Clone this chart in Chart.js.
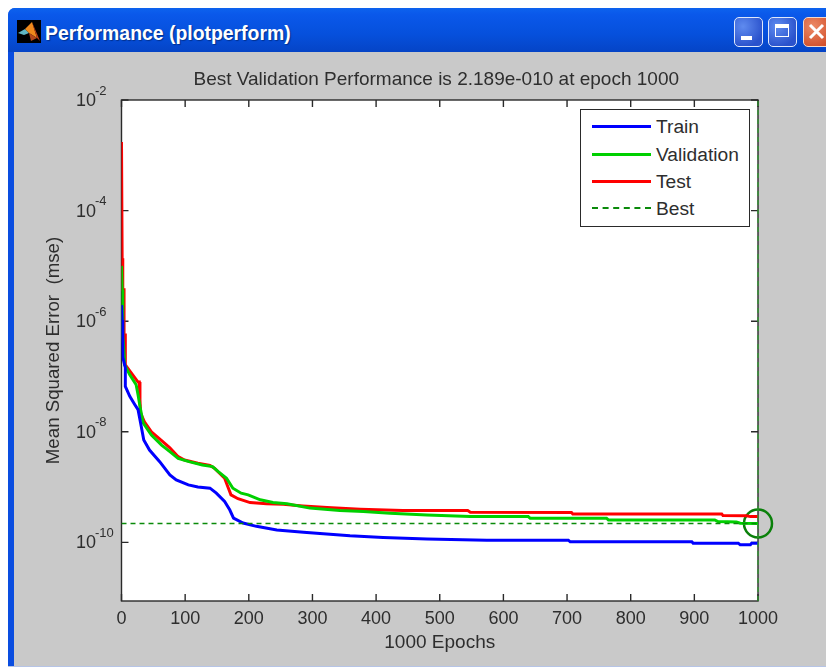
<!DOCTYPE html>
<html>
<head>
<meta charset="utf-8">
<title>Performance (plotperform)</title>
<script src="https://cdn.jsdelivr.net/npm/chart.js@4"></script>
<style>
    html, body { margin: 0; padding: 0; background: #fff; width: 826px; height: 668px; overflow: hidden; }
    body { position: relative; font-family: "Liberation Sans", Arial, sans-serif; filter: blur(0.4px); }
    #frame { position: absolute; left: 8px; top: 8px; width: 830px; height: 658px; background: #0a4de0; border-top-left-radius: 7px; }
    #titlebar { position: absolute; left: 8px; top: 8px; width: 830px; height: 44px; border-top-left-radius: 7px;
        background: linear-gradient(#0d62ee 0%, #0a58ea 15%, #0650dc 60%, #0544c6 100%); }
    #caption { position: absolute; left: 45px; top: 22px; color: #fff; font: bold 19.4px "Liberation Sans", Arial, sans-serif; white-space: nowrap; text-shadow: 1px 1px 1px #03308c; }
    #icon { position: absolute; left: 17px; top: 20px; width: 24px; height: 23px; }
    .btn { position: absolute; top: 17px; height: 28px; border: 1.5px solid #dfe8fb; border-radius: 5px; background: radial-gradient(circle at 30% 30%, #5f8bef, #2a52cc 75%); }
    #panel { position: absolute; left: 14px; top: 52px; width: 812px; height: 614px; background: #c9c9c9; }
    #bottom { position: absolute; left: 8px; top: 666px; width: 818px; height: 1px; background: #b6c4e6; }
    #chart { position: absolute; left: 0; top: 0; }
    #legend { position: absolute; left: 580px; top: 109px; width: 168px; height: 116px; background: #fff; border: 1.5px solid #2a2a2a; }
    .row { position: absolute; left: 11px; height: 22px; width: 150px; }
    .sample { position: absolute; left: 0; top: 9px; width: 59px; height: 0; }
    .row span { position: absolute; left: 64px; top: 0; font-size: 19.2px; line-height: 22px; color: #2e2e2e; }
</style>
</head>
<body>
<div id="frame"></div>
<div id="titlebar"></div>
<svg id="icon" viewBox="0 0 24 23">
    <rect width="24" height="23" fill="#000"/>
    <polygon points="1,13 8,9 12,13 7,15" fill="#5fb6c4"/>
    <polygon points="8,9 15,2 20,18 12,13" fill="#f08a1c"/>
    <polygon points="15,2 23,21 20,18" fill="#c2401a"/>
    <polygon points="12,13 20,18 14,21" fill="#b5481c"/>
</svg>
<div id="caption">Performance (plotperform)</div>
<div class="btn" style="left:734px;width:27px;"><div style="position:absolute;left:6px;top:18px;width:11px;height:4px;background:#fff;"></div></div>
<div class="btn" style="left:768px;width:27px;"><div style="position:absolute;left:6px;top:6px;width:14px;height:13px;border:1.5px solid #fff;border-top-width:4px;box-sizing:border-box;"></div></div>
<div class="btn" style="left:803px;width:30px;background:radial-gradient(circle at 30% 30%,#ec8a66,#d2502c 75%);border-color:#f3d8cc;">
    <svg width="17" height="17" style="position:absolute;left:4px;top:5px;"><path d="M2 2 L15 15 M15 2 L2 15" stroke="#fff" stroke-width="3"/></svg>
</div>
<div id="panel"></div>
<div id="bottom"></div>
<canvas id="chart" width="826" height="668"></canvas>
<div id="legend"></div>

<script>
// ── Data (log10 of the mse) ───────────────────────────────

const trainEpochs = [0, 1, 2, 2, 6, 6, 13, 21, 26, 30, 35, 44, 60, 76, 86, 105, 120, 139, 149, 162, 170, 176, 191, 212, 244, 286, 317, 359, 411, 480, 574, 702, 705, 896, 898, 969, 972, 988, 990, 1000];
const trainLog = [-5.71, -5.98, -6.39, -6.65, -6.84, -7.18, -7.36, -7.51, -7.60, -7.84, -8.15, -8.33, -8.54, -8.78, -8.87, -8.96, -9.00, -9.02, -9.11, -9.26, -9.41, -9.56, -9.65, -9.71, -9.774, -9.816, -9.846, -9.882, -9.913, -9.937, -9.96, -9.96, -9.99, -9.99, -10.014, -10.014, -10.045, -10.045, -10.014, -10.014];

const valEpochs = [0, 1, 2, 2, 3, 5, 13, 23, 26, 29, 34, 47, 63, 76, 89, 106, 127, 143, 152, 165, 175, 188, 199, 218, 238, 260, 296, 343, 380, 422, 480, 548, 639, 642, 762, 765, 932, 937, 966, 972, 1000];
const valLog = [-5.0, -5.43, -5.67, -6.28, -6.39, -6.79, -6.97, -7.15, -7.33, -7.54, -7.84, -8.06, -8.24, -8.36, -8.48, -8.54, -8.60, -8.63, -8.72, -8.84, -9.02, -9.11, -9.14, -9.23, -9.28, -9.30, -9.38, -9.425, -9.443, -9.472, -9.503, -9.534, -9.534, -9.562, -9.562, -9.593, -9.593, -9.624, -9.63, -9.653, -9.66];

const testEpochs = [0, 1, 2, 4, 4, 6, 6, 26, 28, 29, 30, 36, 47, 63, 76, 89, 99, 120, 139, 146, 162, 168, 172, 183, 202, 228, 254, 285, 323, 375, 442, 544, 548, 707, 709, 943, 945, 982, 988, 1000];
const testLog = [-2.76, -4.86, -5.43, -5.43, -6.25, -6.25, -6.79, -7.10, -7.10, -7.42, -7.66, -7.82, -8.00, -8.16, -8.29, -8.45, -8.51, -8.57, -8.61, -8.66, -8.84, -9.02, -9.14, -9.21, -9.28, -9.30, -9.31, -9.34, -9.37, -9.40, -9.425, -9.425, -9.454, -9.46, -9.485, -9.485, -9.515, -9.52, -9.534, -9.534];

const bestEpoch = 1000;
const bestValue = 2.189e-10;

const legendNames = ['Train', 'Validation', 'Test', 'Best'];
const xTicks = [0, 100, 200, 300, 400, 500, 600, 700, 800, 900, 1000];
const yTickExps = [-2, -4, -6, -8, -10];
const yTop = 1e-2;
const yBottom = Math.pow(10, -11.06);

const BLUE = '#0000ff';
const GREEN = '#00d000';
const RED = '#ff0000';
const BEST = '#0a8a0a';
const TEXT = '#2e2e2e';
const FONT = '"Liberation Sans", Arial, sans-serif';

function toPoints(epochs, logs) {
    return epochs.map((e, i) => ({ x: e, y: Math.pow(10, logs[i]) }));
}

// ── Axes box, inward ticks, 10^n labels ───────────────────

const boxPlugin = {
    id: 'box',
    beforeDraw(chart) {
        // the title sits a little left of the axes centre
        chart.titleBlock.left = chart.chartArea.left - 7;
    },
    beforeDatasetsDraw(chart) {
        const { ctx, chartArea: a, scales } = chart;
        ctx.save();
        ctx.fillStyle = '#fff';
        ctx.fillRect(a.left, a.top, a.right - a.left, a.bottom - a.top);
        ctx.strokeStyle = '#2a2a2a';
        ctx.lineWidth = 1.4;
        ctx.strokeRect(a.left, a.top, a.right - a.left, a.bottom - a.top);
        ctx.beginPath();
        xTicks.forEach(t => {
            const px = scales.x.getPixelForValue(t);
            ctx.moveTo(px, a.bottom); ctx.lineTo(px, a.bottom - 7);
            ctx.moveTo(px, a.top); ctx.lineTo(px, a.top + 7);
        });
        yTickExps.forEach(n => {
            const py = scales.y.getPixelForValue(Math.pow(10, n));
            ctx.moveTo(a.left, py); ctx.lineTo(a.left + 7, py);
            ctx.moveTo(a.right, py); ctx.lineTo(a.right - 7, py);
        });
        ctx.stroke();
        ctx.restore();
    },
    afterDraw(chart) {
        const { ctx, scales } = chart;
        ctx.save();
        ctx.fillStyle = TEXT;
        ctx.textAlign = 'left';
        ctx.textBaseline = 'middle';
        yTickExps.forEach(n => {
            const py = scales.y.getPixelForValue(Math.pow(10, n));
            ctx.font = '18px ' + FONT;
            ctx.fillText('10', 76, py + 1);
            ctx.font = '13px ' + FONT;
            ctx.fillText(String(n), 95, py - 9);
        });
        ctx.restore();
    }
};

// ── Chart ─────────────────────────────────────────────────

new Chart(document.getElementById('chart').getContext('2d'), {
    type: 'line',
    data: {
        datasets: [
            { label: 'Best', data: [{ x: 0, y: bestValue }, { x: bestEpoch, y: bestValue }], borderColor: BEST, borderWidth: 1.5, borderDash: [5, 4] },
            { label: 'Best epoch', data: [{ x: bestEpoch, y: yBottom }, { x: bestEpoch, y: yTop }], borderColor: '#2fa02f', borderWidth: 1.2, borderDash: [5, 4], clip: false },
            { label: 'Train', data: toPoints(trainEpochs, trainLog), borderColor: BLUE, borderWidth: 3 },
            { label: 'Validation', data: toPoints(valEpochs, valLog), borderColor: GREEN, borderWidth: 3 },
            { label: 'Test', data: toPoints(testEpochs, testLog), borderColor: RED, borderWidth: 3 },
            { label: 'Best point', data: [{ x: bestEpoch, y: bestValue }], showLine: false, clip: false, pointRadius: 14, pointBorderWidth: 2.5, pointBorderColor: '#0a800a', pointBackgroundColor: 'rgba(0,0,0,0)' }
        ]
    },
    options: {
        responsive: false,
        animation: false,
        parsing: false,
        elements: { point: { radius: 0 }, line: { tension: 0 } },
        layout: { padding: { right: 68 } },
        plugins: {
            legend: { display: false },
            tooltip: { enabled: false },
            title: {
                display: true,
                text: 'Best Validation Performance is 2.189e-010 at epoch 1000',
                color: TEXT,
                fullSize: false,
                font: { family: FONT, size: 19, weight: 'normal', lineHeight: 1.2 },
                padding: { top: 68.6, bottom: 8.6 }
            }
        },
        scales: {
            x: {
                type: 'linear',
                min: 0,
                max: 1000,
                grid: { display: false },
                border: { display: false },
                afterBuildTicks: s => { s.ticks = xTicks.map(v => ({ value: v })); },
                afterFit: s => { s.height = 67; },
                ticks: { color: TEXT, maxRotation: 0, autoSkip: false, padding: -1, callback: v => String(v), font: { family: FONT, size: 18 } },
                title: { display: true, text: '1000 Epochs', color: TEXT, padding: { top: 0, bottom: 14 }, font: { family: FONT, size: 19, weight: 'normal' } }
            },
            y: {
                type: 'logarithmic',
                min: yBottom,
                max: yTop,
                grid: { display: false },
                border: { display: false },
                ticks: { display: false },
                afterFit: s => { s.width = 121.5; },
                title: { display: true, text: 'Mean Squared Error  (mse)', color: TEXT, padding: { top: 43, bottom: 0 }, font: { family: FONT, size: 18.7, weight: 'normal' } }
            }
        }
    },
    plugins: [boxPlugin]
});

// ── Legend ────────────────────────────────────────────────

const legendStyles = ['3px solid ' + BLUE, '3px solid ' + GREEN, '3px solid ' + RED, '2px dashed ' + BEST];
const legendTops = [6, 34, 61, 88];
const legendBox = document.getElementById('legend');
legendNames.forEach((name, i) => {
    const row = document.createElement('div');
    row.className = 'row';
    row.style.top = legendTops[i] + 'px';
    row.innerHTML = `<div class="sample" style="border-top:${legendStyles[i]}"></div><span>${name}</span>`;
    legendBox.appendChild(row);
});
</script>
</body>
</html>
